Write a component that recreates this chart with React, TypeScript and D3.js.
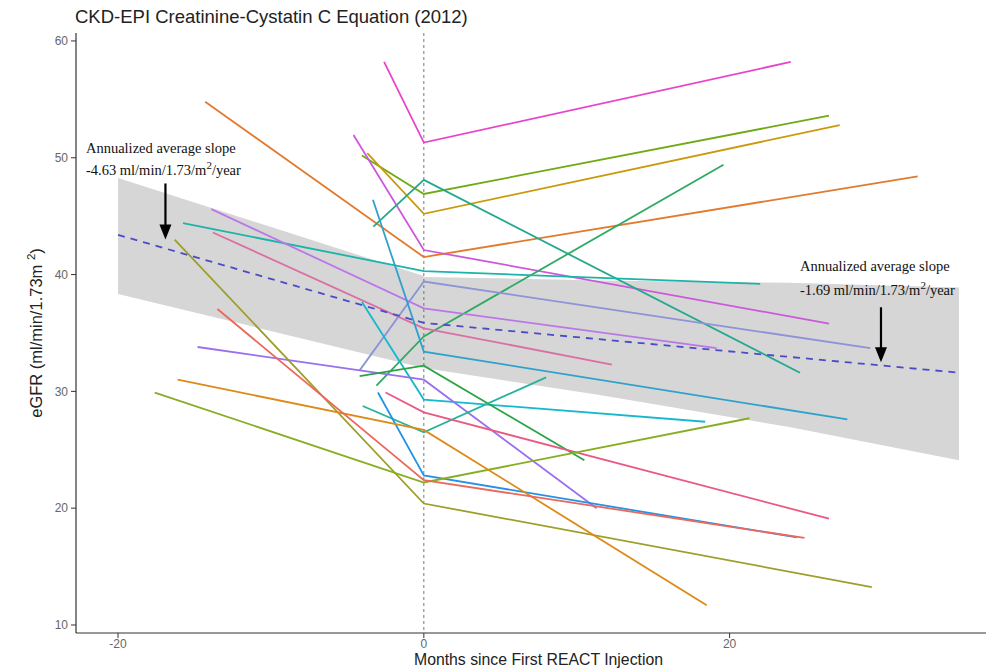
import React from "react";
import * as d3 from "d3";

// ---- Data ----
const subjects = [
  "S01","S02","S03","S04","S05","S06","S07","S08","S09","S10","S11",
  "S12","S13","S14","S15","S16","S17","S18","S19","S20","S21","S22",
];
const preMonth = [-2.6,-4.05,-3.7,-14.3,-4.6,-3.3,-3.1,-15.75,-13.9,-13.8,-4.2,-3.33,-4.05,-14.8,-4.2,-4.0,-3.0,-2.5,-16.3,-17.6,-16.1,-13.5];
const preValue = [58.2,50.2,50.4,54.8,51.95,44.1,30.5,44.4,45.6,43.6,31.8,46.4,37.65,33.8,31.3,28.75,29.9,29.9,43.0,29.9,31.0,37.05];
const baseValue = [51.3,46.9,45.2,41.5,42.1,48.1,34.7,40.3,37.1,35.4,39.4,33.4,29.3,31.0,32.2,26.5,22.8,28.2,20.4,22.2,26.7,22.4];
const endMonth = [24.0,26.5,27.2,32.3,26.5,24.6,19.6,22.0,19.15,12.3,29.2,27.7,18.4,11.3,10.5,8.0,24.4,26.5,29.3,21.3,18.5,24.9];
const endValue = [58.2,53.6,52.8,48.4,35.8,31.6,49.4,39.2,33.7,32.3,33.7,27.6,27.4,20.0,24.1,31.2,17.5,19.1,13.25,27.7,11.7,17.45];
const subjectColors = [
  "#E944C9","#6FAA12","#C99A0C","#E27A2E","#CC58DA","#22A98C","#2EAA62","#1DB3A8",
  "#BB77E8","#DB6FA3","#8C93D6","#2FA2CC","#17B8CF","#9A70EE","#27A544","#26B39B",
  "#2493E6","#EB5882","#9E9E2C","#86AE22","#DD8A17","#EC675C",
];

// model fit: pre-injection and post-injection segments
const ribbonPreMonth = [-20, 0];
const ribbonPreLower = [38.34, 32.0];
const ribbonPreUpper = [48.27, 39.88];
const ribbonPostMonth = [0, 11.5, 23.9, 35];
const ribbonPostLower = [32.0, 29.7, 26.95, 24.1];
const ribbonPostUpper = [39.8, 39.5, 39.3, 38.9];
const fitMonth = [-20, 0, 35];
const fitValue = [43.4, 35.86, 31.6];

const yTicks = [10, 20, 30, 40, 50, 60];
const xTicks = [-20, 0, 20, 40];

const W = 986;
const H = 670;

export default function App() {
  const x = d3.scaleLinear().domain([-22.75, 37.75]).range([76, 1001]);
  const y = d3.scaleLinear().domain([9.315, 60.68]).range([633, 33]);

  const line = d3
    .line<[number, number]>()
    .x((d) => x(d[0]))
    .y((d) => y(d[1]));

  const area = d3
    .area<[number, number, number]>()
    .x((d) => x(d[0]))
    .y0((d) => y(d[1]))
    .y1((d) => y(d[2]));

  const preRibbon: [number, number, number][] = ribbonPreMonth.map((m, i) => [m, ribbonPreLower[i], ribbonPreUpper[i]]);
  const postRibbon: [number, number, number][] = ribbonPostMonth.map((m, i) => [m, ribbonPostLower[i], ribbonPostUpper[i]]);
  const fitPts: [number, number][] = fitMonth.map((m, i) => [m, fitValue[i]]);

  const sans = "'Liberation Sans', Arial, sans-serif";
  const serif = "'Liberation Serif', 'Times New Roman', serif";
  const annSize = 14.5;

  const arrowL = { m: -16.9, top: 47.8, tip: 43.0 };
  const arrowR = { m: 29.9, top: 37.2, tip: 32.5 };

  const arrow = (a: { m: number; top: number; tip: number }) => {
    const ax = x(a.m);
    const yt = y(a.top);
    const yp = y(a.tip);
    return (
      <g>
        <line x1={ax} x2={ax} y1={yt} y2={yp - 10} stroke="#000" strokeWidth={2.2} />
        <path d={`M${ax - 6},${yp - 15} L${ax + 6},${yp - 15} L${ax},${yp} Z`} fill="#000" />
      </g>
    );
  };

  const [x0, x1] = x.range();
  const panelMid = (x0 + x1) / 2;

  return (
    <svg
      width={W}
      height={H}
      viewBox={`0 0 ${W} ${H}`}
      style={{ position: "absolute", left: 0, top: 0, background: "#fff", display: "block" }}
    >
      <defs>
        <clipPath id="plot">
          <rect x={76} y={33} width={W - 76} height={600} />
        </clipPath>
      </defs>

      <text x={75} y={23} fontFamily={sans} fontSize={18.5} fill="#222">
        CKD-EPI Creatinine-Cystatin C Equation (2012)
      </text>

      <g clipPath="url(#plot)">
        <path d={area(preRibbon) || ""} fill="#D6D6D6" />
        <path d={area(postRibbon) || ""} fill="#D6D6D6" />

        <line x1={x(0)} x2={x(0)} y1={33} y2={633} stroke="#555" strokeWidth={0.8} strokeDasharray="3,3" />

        {subjects.map((s, i) => (
          <path
            key={s}
            d={line([
              [preMonth[i], preValue[i]],
              [0, baseValue[i]],
              [endMonth[i], endValue[i]],
            ]) || ""}
            fill="none"
            stroke={subjectColors[i]}
            strokeWidth={1.8}
          />
        ))}

        <path d={line(fitPts) || ""} fill="none" stroke="#4B4BC8" strokeWidth={1.8} strokeDasharray="7,6" />
      </g>

      {/* axes */}
      <line x1={76} x2={76} y1={33} y2={633} stroke="#333" strokeWidth={1.2} />
      <line x1={76} x2={W} y1={633} y2={633} stroke="#333" strokeWidth={1.2} />
      {yTicks.map((t) => (
        <g key={t}>
          <line x1={71} x2={76} y1={y(t)} y2={y(t)} stroke="#333" strokeWidth={1} />
          <text x={68} y={y(t)} dy="0.35em" textAnchor="end" fontFamily={sans} fontSize={12} fill="#666">
            {t}
          </text>
        </g>
      ))}
      {xTicks.filter((t) => x(t) < W).map((t) => (
        <g key={t}>
          <line x1={x(t)} x2={x(t)} y1={633} y2={638} stroke="#333" strokeWidth={1} />
          <text x={x(t)} y={648} textAnchor="middle" fontFamily={sans} fontSize={12} fill="#666">
            {t}
          </text>
        </g>
      ))}

      <text x={panelMid} y={665} textAnchor="middle" fontFamily={sans} fontSize={15.8} fill="#222">
        Months since First REACT Injection
      </text>
      <text
        transform={`translate(42,${(33 + 633) / 2}) rotate(-90)`}
        textAnchor="middle"
        fontFamily={sans}
        fontSize={16.5}
        fill="#222"
      >
        eGFR (ml/min/1.73m <tspan dy={-7} fontSize={11.5}>2</tspan>
        <tspan dy={7}>)</tspan>
      </text>

      {/* annotations */}
      <text x={x(-22.1)} y={y(50.4)} fontFamily={serif} fontSize={annSize} fill="#111">
        Annualized average slope
      </text>
      <text x={x(-22.1)} y={y(48.5)} fontFamily={serif} fontSize={annSize} fill="#111">
        -4.63 ml/min/1.73/m<tspan dy={-6} fontSize={11}>2</tspan>
        <tspan dy={6}>/year</tspan>
      </text>
      {arrow(arrowL)}

      <text x={x(24.6)} y={y(40.3)} fontFamily={serif} fontSize={annSize} fill="#111">
        Annualized average slope
      </text>
      <text x={x(24.6)} y={y(38.25)} fontFamily={serif} fontSize={annSize} fill="#111">
        -1.69 ml/min/1.73/m<tspan dy={-6} fontSize={11}>2</tspan>
        <tspan dy={6}>/year</tspan>
      </text>
      {arrow(arrowR)}
    </svg>
  );
}
